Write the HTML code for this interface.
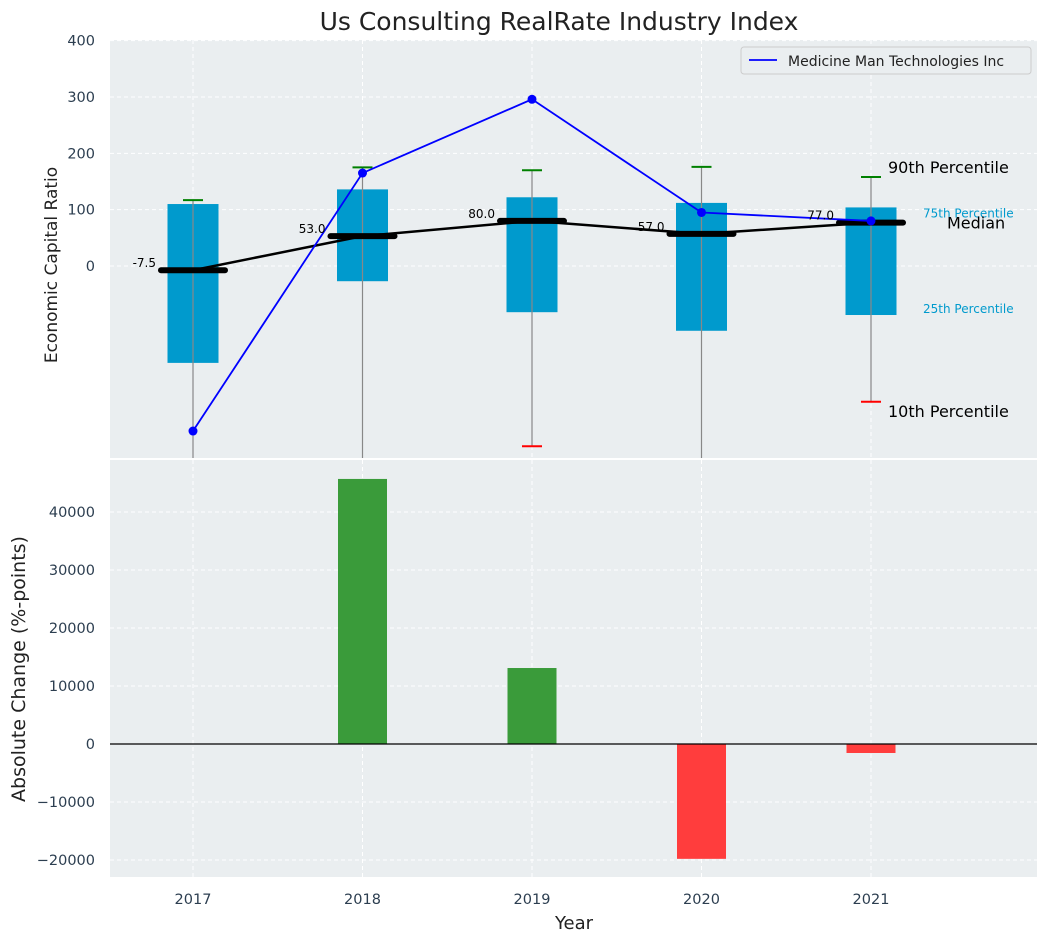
<!DOCTYPE html>
<html><head><meta charset="utf-8"><style>
body{margin:0;background:#fff;font-family:"Liberation Sans","DejaVu Sans",sans-serif}
svg text{font-family:"DejaVu Sans","Liberation Sans",sans-serif}
</style></head><body>
<svg id="c" width="1048" height="942" xmlns="http://www.w3.org/2000/svg"></svg>
<script>
const years=[2017,2018,2019,2020,2021];
const p75=[110,136,122,112,104];
const p25=[-172,-27,-82,-115,-87];
const p90=[117,175,170,176,158];
const p10=[-400,-400,-320,-400,-241];
const medians=[-7.5,53,80,57,77];
const company=[-293,165,296,95,80];
const changes=[0,45700,13100,-19800,-1550];
const topTicks=[0,100,200,300,400];
const botTicks=[-20000,-10000,0,10000,20000,30000,40000];
const NS="http://www.w3.org/2000/svg";
const svg=document.getElementById('c');
function el(t,a,txt,parent){const e=document.createElementNS(NS,t);for(const k in a)e.setAttribute(k,a[k]);if(txt!==undefined)e.textContent=txt;(parent||svg).appendChild(e);return e;}
const L=110,R=1037;
const x=v=>193+(v-2017)*169.5;
const yT=v=>266-v*0.5633;
const yB=v=>744-v*0.0058;
let t=el('text',{x:559,y:30,'text-anchor':'middle','font-size':25,fill:'#222'},'Us Consulting RealRate Industry Index');


let bg=el('rect',{x:L,y:40,width:R-L,height:418,fill:'#eaeef0'});

bg=el('rect',{x:L,y:460,width:R-L,height:417,fill:'#eaeef0'});

const clipD=el('defs',{});
const cp=el('clipPath',{id:'ct'},undefined,clipD);el('rect',{x:L,y:40,width:R-L,height:418},undefined,cp);
const cb=el('clipPath',{id:'cb'},undefined,clipD);el('rect',{x:L,y:460,width:R-L,height:417},undefined,cb);
const gT=el('g',{'clip-path':'url(#ct)'});
const gB=el('g',{'clip-path':'url(#cb)'});
topTicks.forEach(v=>{el('line',{x1:L,x2:R,y1:yT(v),y2:yT(v),stroke:'#fff','stroke-dasharray':'4,3'},undefined,gT);
 let tl=el('text',{x:95,y:yT(v)+5,'text-anchor':'end','font-size':14.5,fill:'#2c3e50'},String(v));
 });
botTicks.forEach(v=>{el('line',{x1:L,x2:R,y1:yB(v),y2:yB(v),stroke:'#fff','stroke-dasharray':'4,3'},undefined,gB);
 let tl=el('text',{x:95,y:yB(v)+5,'text-anchor':'end','font-size':14.5,fill:'#2c3e50'},String(v).replace('-','\u2212'));
 });
years.forEach(yr=>{el('line',{x1:x(yr),x2:x(yr),y1:40,y2:458,stroke:'#fff','stroke-dasharray':'4,3'},undefined,gT);
 el('line',{x1:x(yr),x2:x(yr),y1:460,y2:877,stroke:'#fff','stroke-dasharray':'4,3'},undefined,gB);
 let tl=el('text',{x:x(yr),y:904,'text-anchor':'middle','font-size':14.5,fill:'#2c3e50'},String(yr));
 });
years.forEach((yr,i)=>{const cx=x(yr);
 let b=el('rect',{x:cx-25.5,y:yT(p75[i]),width:51,height:yT(p25[i])-yT(p75[i]),fill:'#009acd'},undefined,gT);
 
 el('line',{x1:cx,x2:cx,y1:yT(p90[i]),y2:yT(p10[i]),stroke:'#888','stroke-width':1.2},undefined,gT);
 el('line',{x1:cx-10,x2:cx+10,y1:yT(p90[i]),y2:yT(p90[i]),stroke:'green','stroke-width':2},undefined,gT);
 if(p10[i]>-340)el('line',{x1:cx-10,x2:cx+10,y1:yT(p10[i]),y2:yT(p10[i]),stroke:'red','stroke-width':2},undefined,gT);
});
el('polyline',{points:years.map((yr,i)=>x(yr)+','+yT(medians[i])).join(' '),fill:'none',stroke:'#000','stroke-width':2.5},undefined,gT);
years.forEach((yr,i)=>{const cx=x(yr);
 let m=el('line',{x1:cx-32,x2:cx+32,y1:yT(medians[i]),y2:yT(medians[i]),stroke:'#000','stroke-width':6,'stroke-linecap':'round'},undefined,gT);
 
 let ml=el('text',{x:cx-37,y:yT(medians[i])-3,'text-anchor':'end','font-size':12,fill:'#000'},medians[i].toFixed(1));
 
});
el('polyline',{points:years.map((yr,i)=>x(yr)+','+yT(company[i])).join(' '),fill:'none',stroke:'blue','stroke-width':1.8},undefined,gT);
years.forEach((yr,i)=>{let c=el('circle',{cx:x(yr),cy:yT(company[i]),r:4.5,fill:'blue'},undefined,gT);
 });
const last=4,ax=x(years[last]);
[['90th Percentile',ax+17,yT(p90[last])-4,16,'#000'],['75th Percentile',ax+52,yT(p75[last])+10,12,'#009acd'],['Median',ax+76,yT(medians[last])+6,16,'#000'],['25th Percentile',ax+52,yT(p25[last])-2,12,'#009acd'],['10th Percentile',ax+17,yT(p10[last])+15,16,'#000']].forEach(a=>{
 let e=el('text',{x:a[1],y:a[2],'font-size':a[3],fill:a[4]},a[0]);});
let lg=el('g',{});
el('rect',{x:741,y:47,width:290,height:27,rx:3,fill:'#eaeef0',stroke:'#ccc'},undefined,lg);
el('line',{x1:749,x2:777,y1:60,y2:60,stroke:'blue','stroke-width':1.8},undefined,lg);
el('text',{x:788,y:66,'font-size':14,fill:'#222'},'Medicine Man Technologies Inc',lg);
years.forEach((yr,i)=>{const v=changes[i];if(v===0)return;
 let b=el('rect',{x:x(yr)-24.5,y:Math.min(yB(v),yB(0)),width:49,height:Math.abs(yB(v)-yB(0)),fill:v>=0?'#3a9b3a':'#ff3d3d'},undefined,gB);
 });
el('line',{x1:L,x2:R,y1:yB(0),y2:yB(0),stroke:'#000','stroke-width':1.2},undefined,gB);
t=el('text',{x:0,y:0,transform:'translate(57,265) rotate(-90)','text-anchor':'middle','font-size':17,fill:'#222'},'Economic Capital Ratio');

t=el('text',{x:0,y:0,transform:'translate(25,669) rotate(-90)','text-anchor':'middle','font-size':19,fill:'#222'},'Absolute Change (%-points)');

t=el('text',{x:574,y:929,'text-anchor':'middle','font-size':18,fill:'#222'},'Year');

</script>
</body></html>
